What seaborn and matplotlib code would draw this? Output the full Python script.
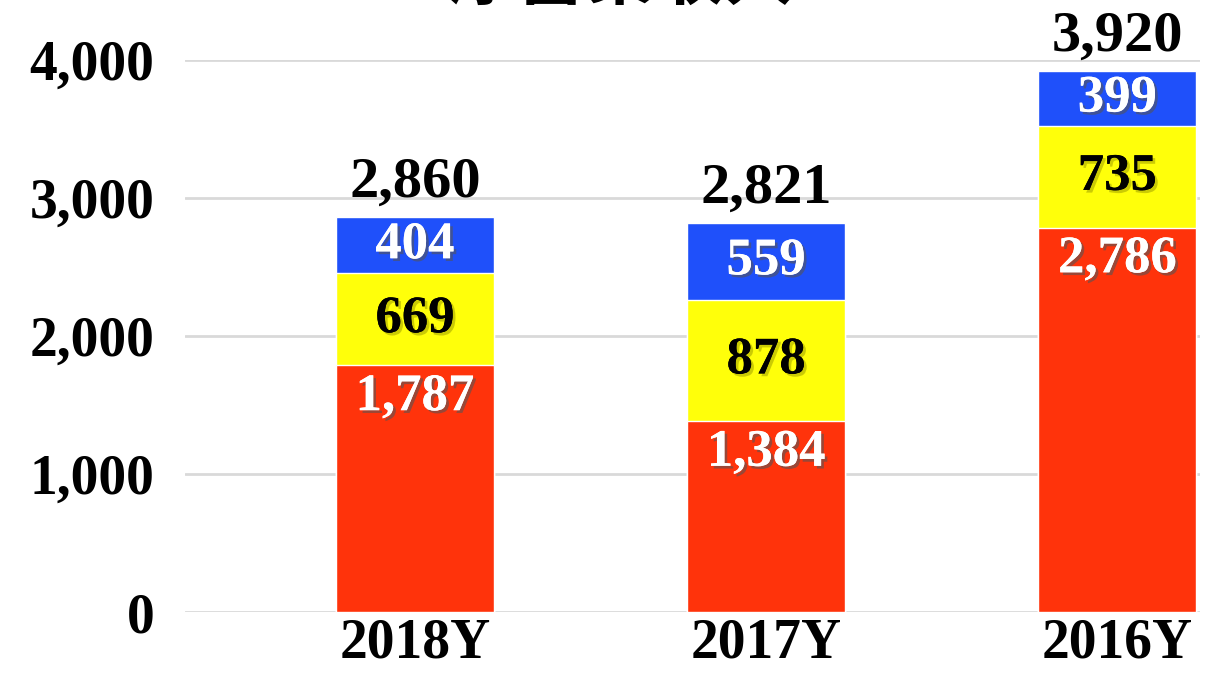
import pandas as pd
import matplotlib.pyplot as plt
import matplotlib.patheffects as pe
import seaborn as sns

# data
years = ['2018Y', '2017Y', '2016Y']
red_vals = [1787, 1384, 2786]
yellow_vals = [669, 878, 735]
blue_vals = [404, 559, 399]
totals = [2860, 2821, 3920]
title = '淨營業收入'

RED = '#ff330b'
YELLOW = '#ffff0a'
BLUE = '#1f50fa'

df = pd.DataFrame({'year': years, 'red': red_vals, 'yellow': yellow_vals, 'blue': blue_vals})
df['red_yellow'] = df['red'] + df['yellow']
df['total'] = df['red_yellow'] + df['blue']

sns.set_style('white')
plt.rcParams['font.family'] = ['Liberation Serif', 'DejaVu Serif']
plt.rcParams['font.weight'] = 'bold'
plt.rcParams['text.color'] = 'black'
plt.rcParams['xtick.color'] = 'black'
plt.rcParams['ytick.color'] = 'black'

fig = plt.figure(figsize=(12.16, 6.9), dpi=100)
ax = fig.add_axes([0.152, 0.113, 0.835, 0.80])

# stacked bars: draw cumulative sums back to front
sns.barplot(data=df, x='year', y='total', color=BLUE, saturation=1, width=0.45, ax=ax)
sns.barplot(data=df, x='year', y='red_yellow', color=YELLOW, saturation=1, width=0.45, ax=ax)
sns.barplot(data=df, x='year', y='red', color=RED, saturation=1, width=0.45, ax=ax)

ax.set_ylim(0, 4000)
ax.set_xlim(-0.655, 2.236)
ax.set_yticks([0, 1000, 2000, 3000, 4000])
ax.set_yticklabels([f'{v:,}' for v in [0, 1000, 2000, 3000, 4000]], fontsize=40, fontweight='bold')
ax.set_xticks(range(len(years)))
ax.set_xticklabels(years, fontsize=40, fontweight='bold')
ax.tick_params(axis='y', length=0, pad=22, colors='black')
ax.tick_params(axis='x', length=0, pad=4, colors='black')
ax.set_xlabel('')
ax.set_ylabel('')
ax.grid(axis='y', color='#d9d9d9', linewidth=2)
ax.set_axisbelow(True)
for s in ax.spines.values():
    s.set_visible(False)

shadow = [pe.withSimplePatchShadow(offset=(2, -2), shadow_rgbFace='#555555', alpha=0.6), pe.Normal()]
soft = [pe.withSimplePatchShadow(offset=(2, -2), shadow_rgbFace='#999900', alpha=0.5), pe.Normal()]

for i, row in df.iterrows():
    ax.text(i, row['total'] + 60, f"{row['total']:,}", ha='center', va='bottom',
            fontsize=42, fontweight='bold', color='black', clip_on=False)
    ax.text(i, row['red_yellow'] + row['blue'] / 2, f"{row['blue']:,}", ha='center', va='center',
            fontsize=38, fontweight='bold', color='white', path_effects=shadow)
    ax.text(i, row['red'] + row['yellow'] / 2, f"{row['yellow']:,}", ha='center', va='center',
            fontsize=38, fontweight='bold', color='black', path_effects=soft)
    ax.text(i, row['red'] - 230, f"{row['red']:,}", ha='center', va='center',
            fontsize=38, fontweight='bold', color='white', path_effects=shadow)

# title sits mostly above the canvas, as in the reference
fig.text(0.51, 0.98, title, ha='center', va='bottom', fontsize=50, fontweight='bold',
         color='black', family=['Noto Sans CJK TC', 'DejaVu Sans'])

fig.savefig('out.png', dpi=100)
